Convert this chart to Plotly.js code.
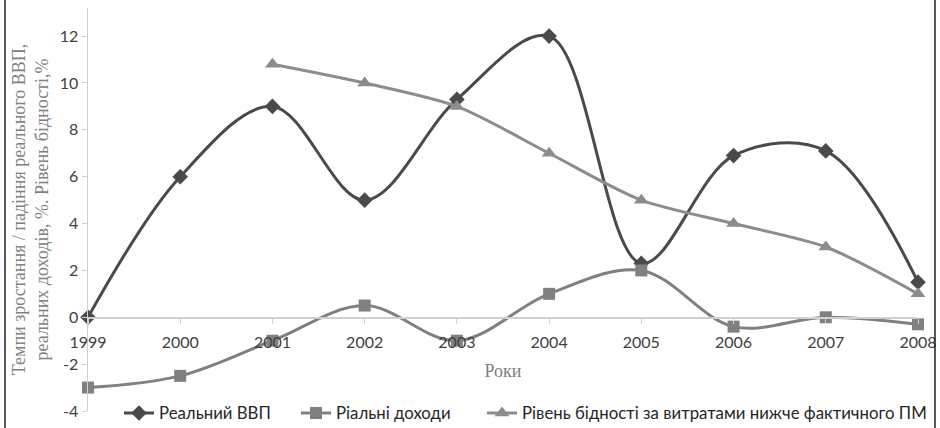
<!DOCTYPE html>
<html>
<head>
<meta charset="utf-8">
<script src="https://cdn.plot.ly/plotly-3.0.1.min.js"></script>
<style>html,body{margin:0;padding:0;background:#fff;}#chart{width:940px;height:428px;}</style>
</head>
<body>
<div id="chart"></div>
<script>
const years = [1999, 2000, 2001, 2002, 2003, 2004, 2005, 2006, 2007, 2008];
const gdp = [0, 6, 9, 5, 9.3, 12, 2.3, 6.9, 7.1, 1.5];
const income = [-3, -2.5, -1, 0.5, -1, 1, 2, -0.4, 0, -0.3];
const povertyYears = [2001, 2002, 2003, 2004, 2005, 2006, 2007, 2008];
const poverty = [10.8, 10, 9, 7, 5, 4, 3, 1];
const names = ['Реальний ВВП', 'Ріальні доходи', 'Рівень бідності за витратами нижче фактичного ПМ'];
const yTicks = [-4, -2, 0, 2, 4, 6, 8, 10, 12];
const yTickLabels = ['-4', '-2', '0', '2', '4', '6', '8', '10', '12'];

const yMin = -4, yMax = 13.2;
const traces = [
  {x: years, y: gdp, name: names[0], mode: 'lines+markers', type: 'scatter', legend: 'legend',
   line: {color: '#4a4a4a', width: 3, shape: 'spline', smoothing: 1},
   marker: {symbol: 'diamond', size: 12, color: '#4a4a4a'}, cliponaxis: false},
  {x: years, y: income, name: names[1], mode: 'lines+markers', type: 'scatter', legend: 'legend2',
   line: {color: '#808080', width: 3, shape: 'spline', smoothing: 1},
   marker: {symbol: 'square', size: 12, color: '#808080'}, cliponaxis: false},
  {x: povertyYears, y: poverty, name: names[2], mode: 'lines+markers', type: 'scatter', legend: 'legend3',
   line: {color: '#8c8c8c', width: 3, shape: 'spline', smoothing: 0.8},
   marker: {symbol: 'triangle-up', size: 13, color: '#8c8c8c'}, cliponaxis: false}
];

const legendFont = {family: 'Lato, "Open Sans", sans-serif', size: 16.8, color: '#262626'};
function legendAt(px) {
  return {orientation: 'h', x: (px - 88) / 830, xanchor: 'left', y: -0.005, yanchor: 'middle',
    font: legendFont, bgcolor: 'rgba(0,0,0,0)'};
}

const layout = {
  width: 940, height: 428,
  margin: {l: 88, r: 22, t: 8, b: 17, autoexpand: false},
  paper_bgcolor: '#fff', plot_bgcolor: '#fff',
  showlegend: true,
  legend: legendAt(119),
  legend2: legendAt(296),
  legend3: legendAt(482),
  xaxis: {
    range: [1999, 2008], tickvals: years, ticktext: years.map(String),
    anchor: 'free', position: (0 - yMin) / (yMax - yMin),
    showline: true, linecolor: '#d0d0d0', linewidth: 1.5,
    ticks: 'outside', ticklen: 5, tickcolor: '#d0d0d0',
    ticklabelstandoff: 5,
    showgrid: false, zeroline: false,
    tickfont: {family: 'Lato, "Open Sans", sans-serif', size: 16, color: '#404040'},
    title: {text: 'Роки', font: {family: '"Liberation Serif", "DejaVu Serif", serif', size: 18, color: '#808080'}, standoff: 14}
  },
  yaxis: {
    range: [yMin, yMax], tickvals: yTicks, ticktext: yTickLabels,
    showline: true, linecolor: '#d0d0d0', linewidth: 1.5,
    ticks: 'outside', ticklen: 5, tickcolor: '#d0d0d0',
    showgrid: false, zeroline: false,
    tickfont: {family: 'Lato, "Open Sans", sans-serif', size: 16, color: '#404040'},
    title: {text: 'Темпи зростання / падіння реального ВВП,<br>реальних доходів, %. Рівень бідності,%',
      font: {family: '"Liberation Serif", "DejaVu Serif", serif', size: 18, color: '#808080'}, standoff: 6}
  },
  shapes: [
    {type: 'rect', xref: 'paper', yref: 'paper',
     x0: (5 - 88) / 830, x1: (935 - 88) / 830,
     y0: -0.1, y1: (421 - 8) / 403,
     line: {color: '#222', width: 1.5}, fillcolor: 'rgba(0,0,0,0)', layer: 'above'}
  ]
};

Plotly.newPlot('chart', traces, layout, {displayModeBar: false, staticPlot: true});
</script>
</body>
</html>
